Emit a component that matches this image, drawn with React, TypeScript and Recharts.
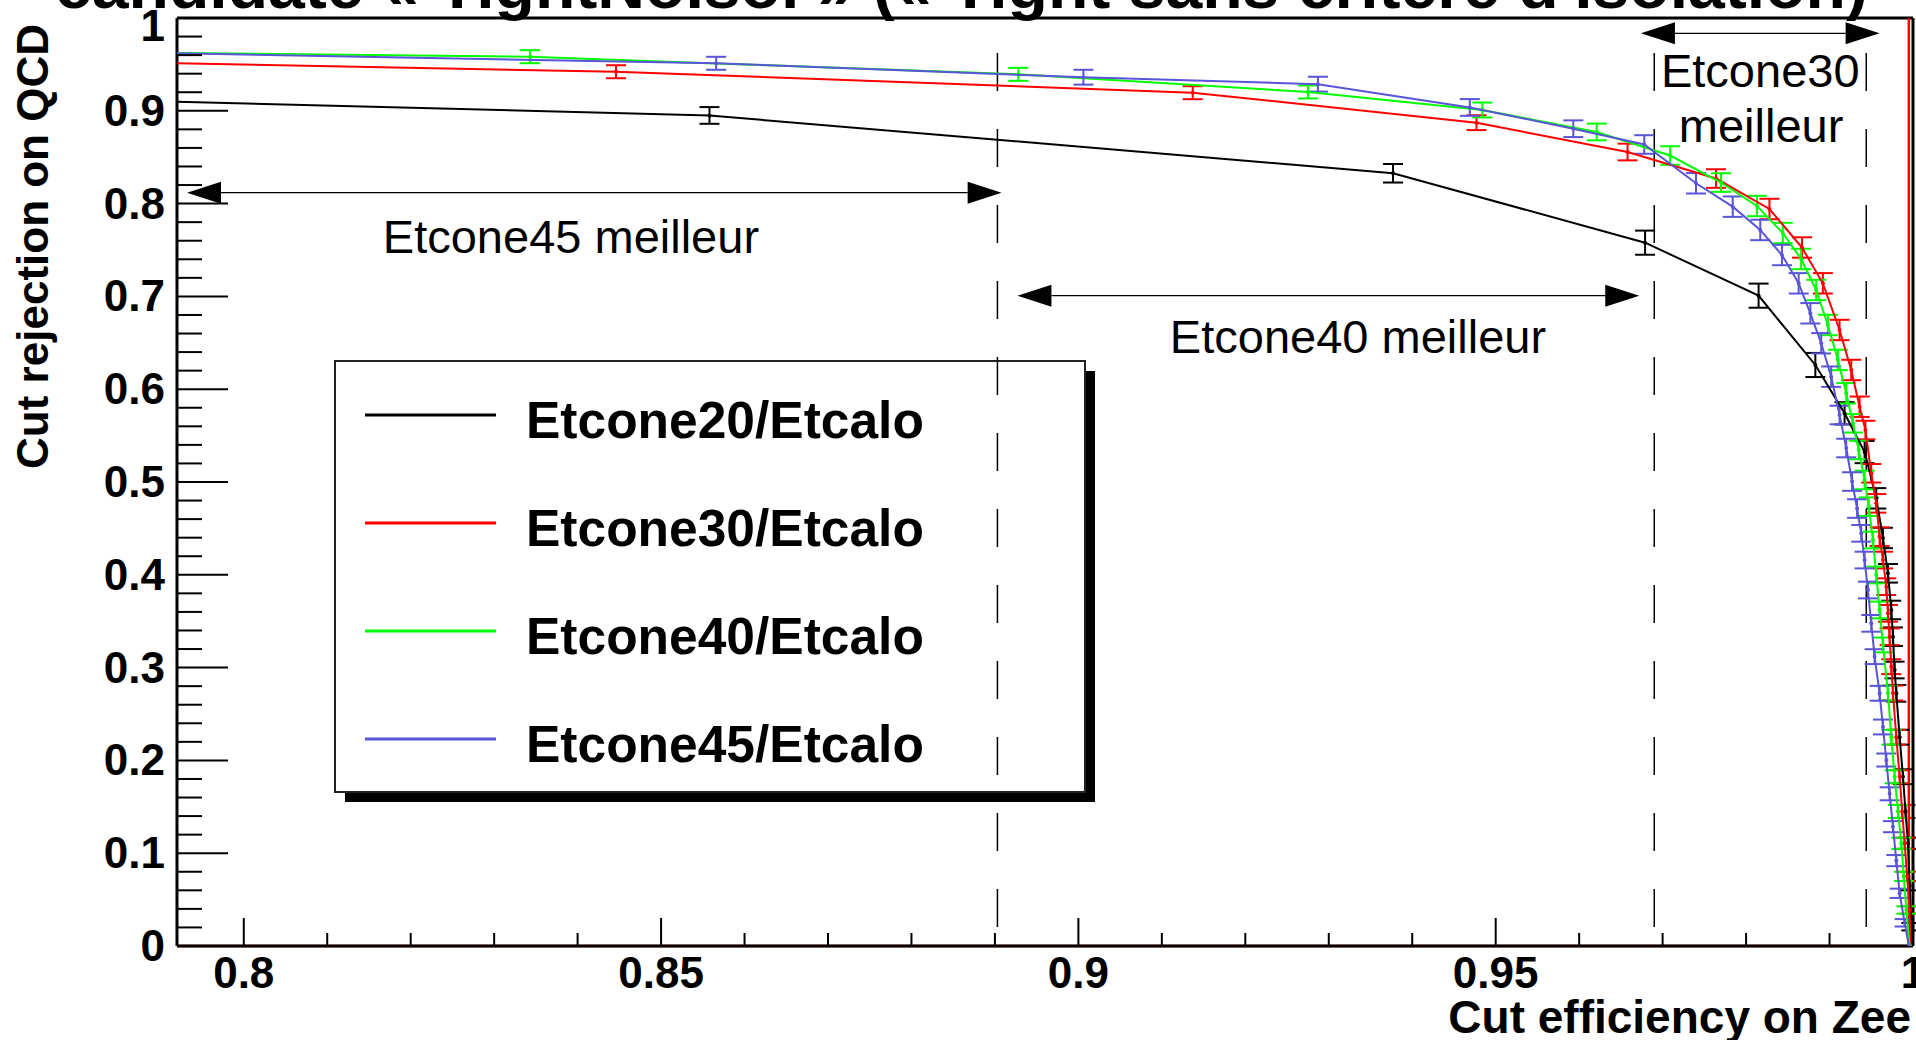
import {
  ComposedChart,
  ErrorBar,
  ReferenceDot,
  ReferenceLine,
  Scatter,
  XAxis,
  YAxis,
} from "recharts";

// [efficacité Zee, réjection QCD, erreur] ; le premier point est hors cadre (à gauche)
type Pt = [number, number, number];

const etcone20: Pt[] = [
  [0.785, 0.9114, 0],
  [0.8558, 0.895, 0.009],
  [0.9377, 0.8327, 0.01],
  [0.9679, 0.7579, 0.013],
  [0.9815, 0.7008, 0.013],
  [0.9883, 0.6261, 0.013],
  [0.9918, 0.574, 0.012],
  [0.9942, 0.5323, 0.012],
  [0.9956, 0.4824, 0.011],
  [0.9964, 0.4397, 0.011],
  [0.997, 0.4016, 0.01],
  [0.9974, 0.3621, 0.01],
  [0.9976, 0.3333, 0.01],
  [0.9978, 0.2974, 0.009],
  [0.998, 0.2723, 0.009],
  [0.9984, 0.225, 0.008],
  [0.9988, 0.1824, 0.008],
  [0.9991, 0.145, 0.007],
  [0.9994, 0.1107, 0.006],
  [0.9996, 0.065, 0.005],
  [0.9998, 0.0208, 0.004],
  [0.9998, 0.0, 0],
];

const etcone30: Pt[] = [
  [0.785, 0.9524, 0],
  [0.8446, 0.9421, 0.007],
  [0.9137, 0.9195, 0.007],
  [0.9477, 0.8872, 0.008],
  [0.9658, 0.8556, 0.009],
  [0.9764, 0.827, 0.01],
  [0.9828, 0.7942, 0.011],
  [0.9867, 0.7527, 0.011],
  [0.9892, 0.7141, 0.011],
  [0.9912, 0.6638, 0.011],
  [0.9926, 0.6207, 0.011],
  [0.9936, 0.5811, 0.011],
  [0.9943, 0.556, 0.01],
  [0.995, 0.5094, 0.01],
  [0.9956, 0.477, 0.01],
  [0.996, 0.4411, 0.01],
  [0.9964, 0.4159, 0.009],
  [0.9968, 0.3872, 0.009],
  [0.997, 0.3585, 0.009],
  [0.9972, 0.3333, 0.009],
  [0.9974, 0.301, 0.008],
  [0.9976, 0.2726, 0.008],
  [0.998, 0.225, 0.008],
  [0.9984, 0.1824, 0.007],
  [0.9987, 0.145, 0.007],
  [0.999, 0.1107, 0.006],
  [0.9993, 0.075, 0.005],
  [0.9996, 0.0388, 0.004],
  [0.9997, 0.0, 0],
];

const etcone40: Pt[] = [
  [0.785, 0.963, 0],
  [0.8343, 0.9583, 0.007],
  [0.8928, 0.9393, 0.007],
  [0.9275, 0.9203, 0.007],
  [0.9484, 0.9009, 0.008],
  [0.9621, 0.8772, 0.009],
  [0.9709, 0.8518, 0.01],
  [0.977, 0.8227, 0.01],
  [0.9813, 0.7974, 0.011],
  [0.9844, 0.7683, 0.011],
  [0.9866, 0.7403, 0.011],
  [0.9884, 0.7069, 0.011],
  [0.9898, 0.6692, 0.011],
  [0.991, 0.6315, 0.011],
  [0.992, 0.5956, 0.011],
  [0.9928, 0.5633, 0.01],
  [0.9935, 0.5345, 0.01],
  [0.9942, 0.5022, 0.01],
  [0.9947, 0.4734, 0.01],
  [0.9952, 0.4375, 0.009],
  [0.9956, 0.3998, 0.009],
  [0.996, 0.3621, 0.009],
  [0.9964, 0.3244, 0.008],
  [0.997, 0.2726, 0.008],
  [0.9974, 0.225, 0.008],
  [0.9978, 0.1824, 0.007],
  [0.9982, 0.145, 0.007],
  [0.9986, 0.1107, 0.006],
  [0.9989, 0.075, 0.005],
  [0.9992, 0.0388, 0.004],
  [0.9996, 0.0, 0],
];

const etcone45: Pt[] = [
  [0.785, 0.9632, 0],
  [0.8566, 0.9512, 0.007],
  [0.9006, 0.9362, 0.008],
  [0.9287, 0.9287, 0.008],
  [0.9469, 0.9036, 0.009],
  [0.9593, 0.8807, 0.009],
  [0.9678, 0.8637, 0.01],
  [0.974, 0.8219, 0.011],
  [0.9784, 0.7967, 0.011],
  [0.9817, 0.7716, 0.011],
  [0.9843, 0.7446, 0.011],
  [0.9863, 0.7141, 0.011],
  [0.9877, 0.6818, 0.011],
  [0.989, 0.6495, 0.011],
  [0.9902, 0.6135, 0.011],
  [0.9912, 0.5722, 0.01],
  [0.992, 0.5366, 0.01],
  [0.9927, 0.5005, 0.01],
  [0.9933, 0.4714, 0.01],
  [0.9938, 0.4447, 0.009],
  [0.9942, 0.4159, 0.009],
  [0.9946, 0.3836, 0.009],
  [0.995, 0.3477, 0.009],
  [0.9954, 0.3118, 0.008],
  [0.996, 0.2723, 0.008],
  [0.9964, 0.236, 0.008],
  [0.9968, 0.2004, 0.007],
  [0.9972, 0.164, 0.007],
  [0.9976, 0.1286, 0.006],
  [0.998, 0.092, 0.006],
  [0.9984, 0.0568, 0.005],
  [0.999, 0.025, 0.004],
  [0.9995, 0.0, 0],
];

const xTicks = [
  0.8, 0.81, 0.82, 0.83, 0.84, 0.85, 0.86, 0.87, 0.88, 0.89, 0.9, 0.91, 0.92,
  0.93, 0.94, 0.95, 0.96, 0.97, 0.98, 0.99, 1.0,
];
const xMajor = [0.8, 0.85, 0.9, 0.95, 1.0];
const yTicks = [
  0, 0.02, 0.04, 0.06, 0.08, 0.1, 0.12, 0.14, 0.16, 0.18, 0.2, 0.22, 0.24, 0.26,
  0.28, 0.3, 0.32, 0.34, 0.36, 0.38, 0.4, 0.42, 0.44, 0.46, 0.48, 0.5, 0.52,
  0.54, 0.56, 0.58, 0.6, 0.62, 0.64, 0.66, 0.68, 0.7, 0.72, 0.74, 0.76, 0.78,
  0.8, 0.82, 0.84, 0.86, 0.88, 0.9, 0.92, 0.94, 0.96, 0.98, 1.0,
];
const yMajor = [0, 0.1, 0.2, 0.3, 0.4, 0.5, 0.6, 0.7, 0.8, 0.9, 1.0];

// coupures en efficacité (lignes tiretées)
const cutLines = [0.8903, 0.969, 0.9944];

const FONT = "'Liberation Sans', Arial, Helvetica, sans-serif";
const TITLE = "candidate « TightNoIsol » (« Tight sans critère d'isolation)";

const series = [
  { name: "Etcone20/Etcalo", color: "#000000", points: etcone20 },
  { name: "Etcone30/Etcalo", color: "#ff0000", points: etcone30 },
  { name: "Etcone40/Etcalo", color: "#00ff00", points: etcone40 },
  { name: "Etcone45/Etcalo", color: "#5954d8", points: etcone45 },
];

const isMajor = (v: number, list: number[]) =>
  list.some((m) => Math.abs(m - v) < 1e-6);
const fmt = (v: number) => String(Math.round(v * 100) / 100);

function YTick(props: any) {
  const { x, y, payload } = props;
  const major = isMajor(payload.value, yMajor);
  return (
    <g>
      <line x1={x} y1={y} x2={x + (major ? 51 : 25)} y2={y} stroke="#000" strokeWidth={2} />
      {major && (
        <text x={x - 12} y={Math.max(y + 15, 41)} textAnchor="end" fontSize={44} fontWeight="bold" fontFamily={FONT} fill="#000">
          {fmt(payload.value)}
        </text>
      )}
    </g>
  );
}

function XTick(props: any) {
  const { x, y, payload } = props;
  const major = isMajor(payload.value, xMajor);
  return (
    <g>
      <line x1={x} y1={y} x2={x} y2={y - (major ? 28 : 13)} stroke="#000" strokeWidth={2} />
      {major && (
        <text x={x} y={y + 42} textAnchor="middle" fontSize={44} fontWeight="bold" fontFamily={FONT} fill="#000">
          {fmt(payload.value)}
        </text>
      )}
    </g>
  );
}

// flèche double
function Arrow(p: any) {
  const { x1, y1, x2 } = p;
  const head = 34;
  const half = 11;
  return (
    <g>
      <line x1={x1 + head} y1={y1} x2={x2 - head} y2={y1} stroke="#000" strokeWidth={1.3} />
      <polygon points={`${x1},${y1} ${x1 + head},${y1 - half} ${x1 + head},${y1 + half}`} fill="#000" />
      <polygon points={`${x2},${y1} ${x2 - head},${y1 - half} ${x2 - head},${y1 + half}`} fill="#000" />
    </g>
  );
}

function LegendBox() {
  const x0 = 335;
  const y0 = 361;
  const w = 750;
  const h = 431;
  return (
    <g>
      <rect x={x0 + 10} y={y0 + 10} width={w} height={h} fill="#000" />
      <rect x={x0} y={y0} width={w} height={h} fill="#fff" stroke="#222" strokeWidth={2} />
      {series.map((s, i) => {
        const ly = 415 + i * 108;
        return (
          <g key={s.name}>
            <line x1={365} y1={ly} x2={496} y2={ly} stroke={s.color} strokeWidth={3} />
            <text x={526} y={ly + 23} fontSize={51.5} fontWeight="bold" fontFamily={FONT} fill="#000">
              {s.name}
            </text>
          </g>
        );
      })}
    </g>
  );
}

const noteStyle = { fontSize: 47, fill: "#000", fontFamily: FONT, position: "center" as const };

export default function App() {
  return (
    <div style={{ position: "absolute", left: 0, top: 0, width: 1916, height: 1040, background: "#fff" }}>
      <ComposedChart
        width={1916}
        height={1040}
        margin={{ top: 18, right: 3, bottom: 0, left: 0 }}
        style={{ fontFamily: FONT }}
      >
        <XAxis
          dataKey="x"
          type="number"
          domain={[0.792, 1]}
          allowDataOverflow
          ticks={xTicks}
          interval={0}
          tick={XTick}
          tickLine={false}
          tickSize={0}
          tickMargin={0}
          height={94}
          axisLine={{ stroke: "#000", strokeWidth: 3 }}
        />
        <YAxis
          dataKey="y"
          type="number"
          domain={[0, 1]}
          allowDataOverflow
          ticks={yTicks}
          interval={0}
          tick={YTick}
          tickLine={false}
          tickSize={0}
          tickMargin={0}
          width={177}
          axisLine={{ stroke: "#000", strokeWidth: 3 }}
        />
        <LegendBox />
        {/* cadre haut et droite */}
        <ReferenceLine y={1} stroke="#000" strokeWidth={3} />
        <ReferenceLine x={1} stroke="#000" strokeWidth={3} />
        {cutLines.map((c) => (
          <ReferenceLine
            key={c}
            segment={[
              { x: c, y: 1 },
              { x: c, y: 0 },
            ]}
            stroke="#000"
            strokeWidth={1.5}
            strokeDasharray="38 38"
            strokeDashoffset={41}
          />
        ))}
        <ReferenceLine
          segment={[
            { x: 0.792, y: 0 },
            { x: 0.9996, y: 0 },
          ]}
          stroke="#ff0000"
          strokeWidth={2.5}
        />
        <ReferenceLine
          segment={[
            { x: 0.9995, y: 0 },
            { x: 0.9995, y: 1 },
          ]}
          stroke="#ff0000"
          strokeWidth={2.5}
        />
        {series.map((s) => (
          <Scatter
            key={s.name}
            name={s.name}
            data={s.points.map(([x, y, err]) => ({ x, y, err }))}
            fill={s.color}
            line={{ stroke: s.color, strokeWidth: 2 }}
            lineType="joint"
            shape={(p: any) => <circle cx={p.cx} cy={p.cy} r={2} fill={s.color} />}
            isAnimationActive={false}
          >
            <ErrorBar dataKey="err" direction="y" width={10} stroke={s.color} strokeWidth={2} />
          </Scatter>
        ))}
        <ReferenceLine
          segment={[
            { x: 0.7932, y: 0.8118 },
            { x: 0.8908, y: 0.8118 },
          ]}
          shape={Arrow}
        />
        <ReferenceLine
          segment={[
            { x: 0.8927, y: 0.7008 },
            { x: 0.9672, y: 0.7008 },
          ]}
          shape={Arrow}
        />
        <ReferenceLine
          segment={[
            { x: 0.9674, y: 0.9835 },
            { x: 0.996, y: 0.9835 },
          ]}
          shape={Arrow}
        />
        <ReferenceDot x={0.8392} y={0.7651} r={0} stroke="none" fill="none" label={{ value: "Etcone45 meilleur", ...noteStyle }} />
        <ReferenceDot x={0.9335} y={0.6573} r={0} stroke="none" fill="none" label={{ value: "Etcone40 meilleur", ...noteStyle }} />
        <ReferenceDot x={0.9817} y={0.9437} r={0} stroke="none" fill="none" label={{ value: "Etcone30", ...noteStyle }} />
        <ReferenceDot x={0.9818} y={0.8847} r={0} stroke="none" fill="none" label={{ value: "meilleur", ...noteStyle }} />
        <text x={55} y={8} fontSize={64} fontWeight="bold" fontFamily={FONT} textLength={1813} lengthAdjust="spacingAndGlyphs" fill="#000">
          {TITLE}
        </text>
        <text transform="rotate(-90)" x={-24} y={48} textAnchor="end" fontSize={44} fontWeight="bold" fontFamily={FONT} fill="#000">
          Cut rejection on QCD
        </text>
        <text x={1911} y={1033} textAnchor="end" fontSize={46} fontWeight="bold" fontFamily={FONT} fill="#000">
          Cut efficiency on Zee
        </text>
      </ComposedChart>
    </div>
  );
}
